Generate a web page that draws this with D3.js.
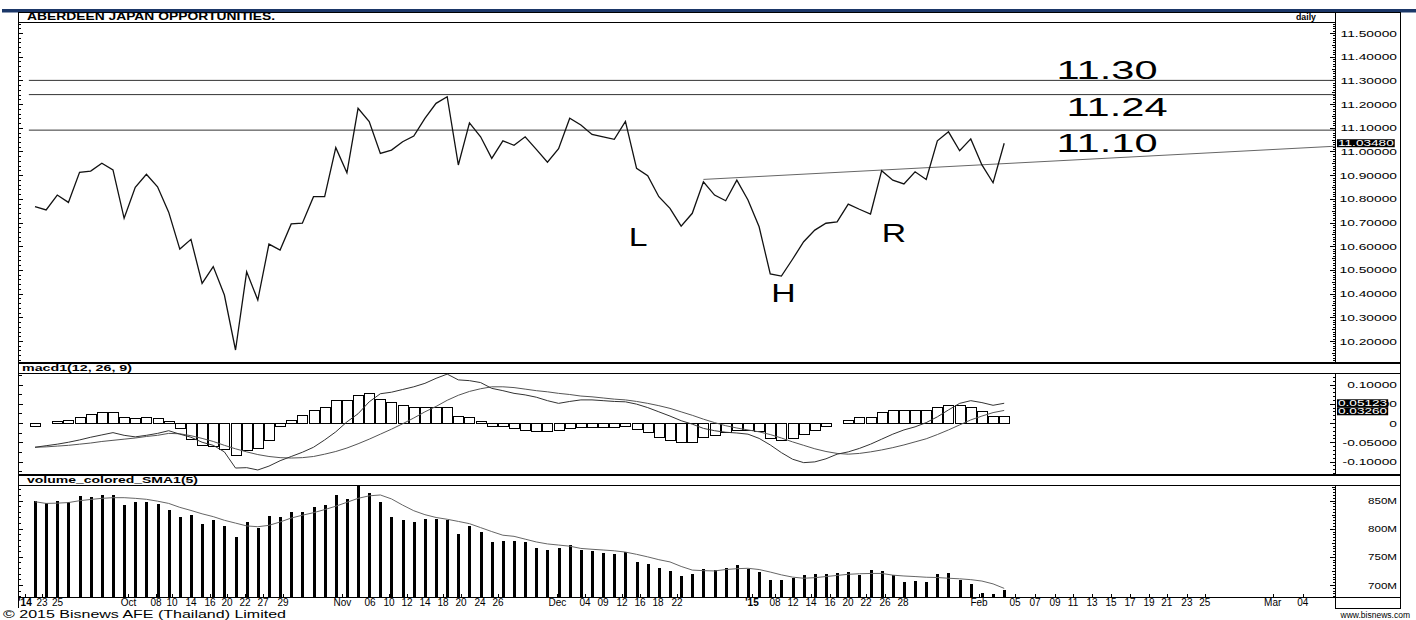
<!DOCTYPE html>
<html>
<head>
<meta charset="utf-8">
<script src="https://cdn.jsdelivr.net/npm/d3@7/dist/d3.min.js"></script>
<style>
  body { margin: 0; background: #fff; }
  svg text { font-family: "Liberation Sans", Arial, sans-serif; fill: #000; }
</style>
</head>
<body>
<svg class="chart" width="1416" height="620"></svg>
<script>
// daily closes, one per bar
const closes = [
  10.767, 10.753, 10.816, 10.785, 10.912, 10.917, 10.950, 10.922, 10.718, 10.849,
  10.904, 10.851, 10.744, 10.588, 10.629, 10.443, 10.514, 10.394, 10.162, 10.492,
  10.373, 10.609, 10.584, 10.694, 10.697, 10.809, 10.809, 11.016, 10.910, 11.182,
  11.126, 10.992, 11.006, 11.041, 11.065, 11.140, 11.203, 11.231, 10.943, 11.121,
  11.062, 10.971, 11.045, 11.026, 11.062, 11.009, 10.955, 11.012, 11.140, 11.112,
  11.072, 11.062, 11.051, 11.127, 10.929, 10.898, 10.809, 10.760, 10.685, 10.739,
  10.872, 10.816, 10.792, 10.879, 10.795, 10.682, 10.483, 10.474, 10.545, 10.619,
  10.668, 10.697, 10.703, 10.778, 10.756, 10.736, 10.919, 10.879, 10.863, 10.914,
  10.882, 11.045, 11.083, 11.003, 11.053, 10.943, 10.868, 11.0348
]

const macd = [
  -0.063, -0.059, -0.055, -0.050, -0.044, -0.037, -0.031, -0.025, -0.032, -0.036,
  -0.032, -0.027, -0.020, -0.029, -0.037, -0.050, -0.058, -0.075, -0.117, -0.116,
  -0.122, -0.112, -0.098, -0.087, -0.076, -0.063, -0.044, -0.023, 0.003, 0.024,
  0.055, 0.076, 0.080, 0.087, 0.094, 0.103, 0.116, 0.127, 0.112, 0.110,
  0.105, 0.090, 0.084, 0.077, 0.073, 0.067, 0.058, 0.051, 0.056, 0.060,
  0.060, 0.058, 0.056, 0.055, 0.049, 0.040, 0.029, 0.018, 0.006, -0.003,
  -0.014, -0.020, -0.024, -0.026, -0.029, -0.040, -0.057, -0.077, -0.094, -0.103,
  -0.101, -0.093, -0.081, -0.075, -0.066, -0.055, -0.042, -0.029, -0.018, -0.010,
  0.001, 0.016, 0.034, 0.051, 0.058, 0.053, 0.046, 0.05123
]

const signal = [
  -0.063, -0.062, -0.060, -0.058, -0.055, -0.052, -0.048, -0.045, -0.042, -0.039,
  -0.035, -0.032, -0.027, -0.028, -0.033, -0.040, -0.048, -0.058, -0.067, -0.075,
  -0.082, -0.087, -0.090, -0.091, -0.090, -0.087, -0.081, -0.074, -0.065, -0.054,
  -0.042, -0.029, -0.016, -0.002, 0.013, 0.029, 0.043, 0.059, 0.072, 0.082,
  0.089, 0.094, 0.094, 0.092, 0.088, 0.084, 0.081, 0.077, 0.074, 0.070,
  0.068, 0.065, 0.062, 0.060, 0.056, 0.051, 0.045, 0.038, 0.029, 0.020,
  0.010, 0.001, -0.007, -0.013, -0.018, -0.023, -0.030, -0.039, -0.049, -0.058,
  -0.067, -0.074, -0.079, -0.081, -0.079, -0.075, -0.070, -0.064, -0.057, -0.049,
  -0.041, -0.030, -0.018, -0.005, 0.008, 0.018, 0.027, 0.0326
]

const hist = [
  -0.008, 0.001, 0.004, 0.009, 0.016, 0.024, 0.029, 0.029, 0.015, 0.013,
  0.016, 0.013, 0.005, -0.013, -0.042, -0.058, -0.061, -0.067, -0.084, -0.069,
  -0.064, -0.043, -0.007, 0.009, 0.020, 0.035, 0.042, 0.059, 0.059, 0.074,
  0.079, 0.063, 0.055, 0.048, 0.042, 0.042, 0.042, 0.042, 0.019, 0.015,
  0.006, -0.007, -0.009, -0.013, -0.017, -0.020, -0.021, -0.019, -0.014, -0.011,
  -0.010, -0.010, -0.010, -0.008, -0.015, -0.023, -0.036, -0.043, -0.050, -0.050,
  -0.036, -0.031, -0.023, -0.017, -0.018, -0.022, -0.038, -0.043, -0.038, -0.029,
  -0.019, -0.009, 0, 0.009, 0.016, 0.016, 0.028, 0.033, 0.034, 0.034,
  0.034, 0.042, 0.048, 0.046, 0.042, 0.031, 0.017, 0.019
]

// volume in millions
const volume = [
  849, 845, 849, 847, 858, 857, 860, 860, 842, 848,
  848, 844, 833, 821, 824, 808, 815, 805, 786, 812,
  802, 823, 820, 829, 829, 839, 842, 860, 852, 876,
  863, 848, 821, 815, 812, 818, 817, 815, 791, 804,
  795, 776, 779, 778, 776, 765, 762, 766, 771, 763,
  760, 756, 755, 759, 741, 737, 730, 725, 716, 720,
  728, 727, 730, 736, 729, 723, 708, 708, 712, 717,
  719, 720, 721, 723, 717, 727, 724, 718, 706, 707,
  706, 720, 721, 709, 702, 686, 684, 691
]

const volumeSma = [
  848, 845, 845.5, 846.5, 849.8, 852, 854, 855.2, 855.2, 854,
  852.3, 849, 845, 838, 832.5, 826.5, 821.5, 815, 810, 805,
  803.6, 806, 812, 819, 824, 828.5, 834, 840, 847, 854,
  858.5, 860, 853, 842, 832, 825, 820, 816.8, 813, 809,
  802, 795, 788.5, 786.5, 781.5, 776.5, 773, 771, 769, 765,
  763.5, 762.2, 760.8, 758.5, 754.5, 750, 745, 741, 733, 726.5,
  725.5, 725, 727.5, 729, 729.7, 727.5, 723, 718, 714, 712,
  713, 715, 717, 719, 720, 720.5, 720.6, 717.5, 716, 715,
  713.8, 713.3, 712, 711, 709.5, 707, 702, 694
]

const levelValues = [11.30, 11.24, 11.09]
const levelTexts = ['11.30', '11.24', '11.10']
const levelTextAt = [[91.7, 11.306], [92.6, 11.150], [91.7, 10.998]]
const patternTexts = ['L', 'H', 'R']
const patternAt = [[53.3, 10.601], [66.1, 10.364], [76.0, 10.618]]
const trendLine = [[60, 10.882], [116.7, 11.022]]

const priceTicks = [10.2, 10.3, 10.4, 10.5, 10.6, 10.7, 10.8, 10.9, 11.0, 11.1, 11.2, 11.3, 11.4, 11.5]
const macdTicks = [-0.1, -0.05, 0, 0.05, 0.1]
const volumeTicks = [700, 750, 800, 850]

const dateLabels = [
  "'14", '23', '25', 'Oct', '08', '10', '14', '16', '20', '22', '27', '29',
  'Nov', '06', '10', '12', '14', '18', '20', '24', '26',
  'Dec', '04', '09', '12', '16', '18', '22',
  "'15", '08', '12', '14', '16', '20', '22', '26', '28',
  'Feb', '05', '07', '09', '11', '13', '15', '17', '19', '21', '23', '25',
  'Mar', '04'
]
// where each date label falls, in bar units
const dateAt = [
  -0.9, 0.63, 2.02, 8.39, 10.86, 12.3, 14.0, 15.71, 17.24, 18.85, 20.47, 22.26,
  27.6, 30.07, 31.78, 33.39, 35.01, 36.62, 38.24, 39.95, 41.56,
  46.9, 49.37, 50.99, 52.69, 54.31, 55.93, 57.63,
  64.36, 66.43, 68.04, 69.66, 71.36, 72.98, 74.6, 76.3, 77.92,
  84.74, 87.97, 89.77, 91.56, 93.18, 94.88, 96.59, 98.29, 100.0, 101.6, 103.4, 105.0,
  111.1, 113.8
]

const layout = { left: 18, right: 1335, edge: 1400 }
const panes = {
  price: { top: 12, head: 21.5, bottom: 362 },
  macd: { top: 363, head: 372.5, bottom: 474 },
  volume: { top: 475, head: 484.5, bottom: 597 }
}

const x = d3.scaleLinear().domain([0, closes.length - 1]).range([35, 1004.2])
const yPrice = d3.scaleLinear().domain([10.2, 11.5]).range([341, 33])
const yMacd = d3.scaleLinear().domain([-0.1, 0.1]).range([461.5, 384.5])
const yVolume = d3.scaleLinear().domain([700, 850]).range([585, 500.6])

const svg = d3.select('svg.chart')

// stretch text horizontally like the screen capture does
const widen = (sel, k) => sel.each(function () {
  d3.select(this)
    .attr('textLength', this.getComputedTextLength() * k)
    .attr('lengthAdjust', 'spacingAndGlyphs')
})

// top banner
svg.append('rect')
  .attr('x', 2).attr('y', 9).attr('width', 1414).attr('height', 3.5)
  .attr('fill', '#1b3768')

// panel frames
const frame = svg.append('g')
  .attr('shape-rendering', 'crispEdges')
  .attr('stroke', '#000')
  .attr('fill', 'none')

Object.entries(panes).forEach(([name, p]) => {
  frame.append('rect')
    .attr('x', layout.left + 0.5).attr('y', p.top + 0.5)
    .attr('width', layout.edge - layout.left).attr('height', p.bottom - p.top)
  frame.append('line')
    .attr('x1', layout.left).attr('x2', name === 'price' ? layout.right : layout.edge)
    .attr('y1', p.head + 0.5).attr('y2', p.head + 0.5)
  frame.append('line')
    .attr('x1', layout.right + 0.5).attr('x2', layout.right + 0.5)
    .attr('y1', name === 'price' ? p.top : p.head).attr('y2', p.bottom)
})
// date row
frame.append('line')
  .attr('x1', layout.left + 0.5).attr('x2', layout.left + 0.5)
  .attr('y1', panes.volume.bottom).attr('y2', 608)
frame.append('rect')
  .attr('x', layout.right + 0.5).attr('y', panes.volume.bottom + 0.5)
  .attr('width', layout.edge - layout.right).attr('height', 11)

// ruler ticks on both edges of a pane
const ruler = (scale, p, stepLeft, stepRight, major) => {
  const g = svg.append('g')
    .attr('shape-rendering', 'crispEdges')
    .attr('stroke', '#000')
  const lo = Math.min(scale.invert(p.head), scale.invert(p.bottom))
  const hi = Math.max(scale.invert(p.head), scale.invert(p.bottom))
  const marks = step => d3.range(Math.ceil(lo / step), Math.floor(hi / step) + 1)
    .map(k => k * step)
  const isMajor = v => Math.abs(v / major - Math.round(v / major)) < 1e-6
  const isMid = v => Math.abs(v / (major / 2) - Math.round(v / (major / 2))) < 1e-6
  g.selectAll('line.l').data(marks(stepLeft)).join('line')
    .attr('class', 'l')
    .attr('x1', layout.left).attr('x2', v => layout.left + (isMajor(v) ? 5 : isMid(v) ? 4 : 3))
    .attr('y1', v => Math.round(scale(v)) + 0.5).attr('y2', v => Math.round(scale(v)) + 0.5)
  g.selectAll('line.r').data(marks(stepRight)).join('line')
    .attr('class', 'r')
    .attr('x1', v => layout.right - (isMajor(v) ? 5 : isMid(v) ? 3 : 2)).attr('x2', layout.right)
    .attr('y1', v => Math.round(scale(v)) + 0.5).attr('y2', v => Math.round(scale(v)) + 0.5)
}
ruler(yPrice, panes.price, 0.02, 0.01, 0.1)
ruler(yMacd, panes.macd, 0.025, 0.01, 0.05)
ruler(yVolume, panes.volume, 10, 5, 50)

// axis labels on the right
const axisLabels = (ticks, scale, fmt, k) => {
  svg.append('g').selectAll('text').data(ticks).join('text')
    .attr('x', 1397).attr('y', d => scale(d) + 3.5)
    .attr('text-anchor', 'end')
    .attr('font-size', 9.5)
    .text(fmt)
    .call(widen, k)
}
axisLabels(priceTicks, yPrice, d => d.toFixed(5), 1.45)
axisLabels(macdTicks, yMacd, d => d === 0 ? '0' : d.toFixed(5), 1.45)
axisLabels(volumeTicks, yVolume, d => d + 'M', 1.22)

// pane titles
const title = (text, tx, ty, size, len) => svg.append('text')
  .attr('x', tx).attr('y', ty)
  .attr('font-size', size).attr('font-weight', 'bold')
  .attr('textLength', len).attr('lengthAdjust', 'spacingAndGlyphs')
  .text(text)
title('ABERDEEN JAPAN OPPORTUNITIES.', 27, 20, 10, 248)
title('daily', 1296, 19.5, 9, 20)
title('macd1(12, 26, 9)', 22, 370.5, 8.5, 110)
title('volume_colored_SMA1(5)', 27, 482.5, 8.5, 171)

// price pane
const price = svg.append('g')

price.selectAll('line.level').data(levelValues).join('line')
  .attr('class', 'level')
  .attr('x1', x(-0.55)).attr('x2', layout.right)
  .attr('y1', d => yPrice(d)).attr('y2', d => yPrice(d))
  .attr('stroke', '#333').attr('stroke-width', 1)

svg.append('clipPath').attr('id', 'price-clip')
  .append('rect')
  .attr('x', layout.left).attr('y', panes.price.head)
  .attr('width', layout.right - layout.left).attr('height', panes.price.bottom - panes.price.head)

price.append('path')
  .datum(trendLine)
  .attr('clip-path', 'url(#price-clip)')
  .attr('d', d3.line().x(d => x(d[0])).y(d => yPrice(d[1])))
  .attr('fill', 'none').attr('stroke', '#666').attr('stroke-width', 1)

price.append('path')
  .datum(closes)
  .attr('d', d3.line().x((d, i) => x(i)).y(d => yPrice(d)))
  .attr('fill', 'none').attr('stroke', '#111').attr('stroke-width', 1.3)
  .attr('stroke-linejoin', 'miter')

price.selectAll('text.lvl').data(levelTexts).join('text')
  .attr('class', 'lvl')
  .attr('x', (d, i) => x(levelTextAt[i][0]))
  .attr('y', (d, i) => yPrice(levelTextAt[i][1]))
  .attr('font-size', 26)
  .attr('textLength', 101).attr('lengthAdjust', 'spacingAndGlyphs')
  .text(d => d)

price.selectAll('text.pat').data(patternTexts).join('text')
  .attr('class', 'pat')
  .attr('x', (d, i) => x(patternAt[i][0]))
  .attr('y', (d, i) => yPrice(patternAt[i][1]))
  .attr('font-size', 25)
  .text(d => d)
  .call(widen, 1.35)

// macd pane
const macdG = svg.append('g')
macdG.selectAll('rect').data(hist).join('rect')
  .attr('x', (d, i) => Math.round(x(i) - 5) + 0.5)
  .attr('width', 9.5)
  .attr('y', d => Math.round(yMacd(Math.max(0, d))) + 0.5)
  .attr('height', d => Math.abs(Math.round(yMacd(d)) - Math.round(yMacd(0))))
  .attr('fill', '#fff').attr('stroke', '#000').attr('stroke-width', 1)
  .attr('shape-rendering', 'crispEdges')

const macdLine = d3.line().x((d, i) => x(i)).y(d => yMacd(d))
macdG.append('path').datum(signal).attr('d', macdLine)
  .attr('fill', 'none').attr('stroke', '#555').attr('stroke-width', 1)
macdG.append('path').datum(macd).attr('d', macdLine)
  .attr('fill', 'none').attr('stroke', '#333').attr('stroke-width', 1)

// volume pane
const volG = svg.append('g')
volG.selectAll('rect').data(volume).join('rect')
  .attr('x', (d, i) => Math.round(x(i)) - 1)
  .attr('width', 3)
  .attr('y', d => yVolume(d))
  .attr('height', d => panes.volume.bottom - yVolume(d))
  .attr('fill', '#000')
  .attr('shape-rendering', 'crispEdges')
volG.append('path').datum(volumeSma)
  .attr('d', d3.line().x((d, i) => x(i)).y(d => yVolume(d)))
  .attr('fill', 'none').attr('stroke', '#666').attr('stroke-width', 1)

// last-value boxes, stacked so they do not cover each other
let boxFloor = 0
const valueBox = (value, scale, textX) => {
  const top = Math.max(scale(value) - 4, boxFloor)
  const g = svg.append('g')
  const t = g.append('text')
    .attr('x', textX).attr('y', top + 7)
    .attr('font-size', 8.5)
    .style('fill', '#fff')
    .text(value.toFixed(5))
    .call(widen, 1.6)
  const w = t.node().getComputedTextLength()
  g.insert('rect', 'text')
    .attr('x', textX - 1).attr('y', top)
    .attr('width', w + 2).attr('height', 8)
    .attr('fill', '#000')
  boxFloor = top + 8
}
valueBox(closes[closes.length - 1], yPrice, 1338)
boxFloor = 0
valueBox(macd[macd.length - 1], yMacd, 1338)
valueBox(signal[signal.length - 1], yMacd, 1338)

// date axis
const dates = svg.append('g')
dates.selectAll('line').data(dateAt).join('line')
  .attr('x1', d => Math.round(x(d)) + 0.5).attr('x2', d => Math.round(x(d)) + 0.5)
  .attr('y1', panes.volume.bottom - 3).attr('y2', panes.volume.bottom)
  .attr('stroke', '#000').attr('shape-rendering', 'crispEdges')
dates.selectAll('text').data(dateLabels).join('text')
  .attr('x', (d, i) => x(dateAt[i]))
  .attr('y', 606)
  .attr('text-anchor', 'middle')
  .attr('font-size', 10)
  .attr('font-weight', d => d.startsWith("'") ? 'bold' : 'normal')
  .text(d => d)

// footer
svg.append('text')
  .attr('x', 3).attr('y', 617.5)
  .attr('font-size', 10)
  .attr('textLength', 283).attr('lengthAdjust', 'spacingAndGlyphs')
  .text('\u00a9 2015 Bisnews AFE (Thailand) Limited')
svg.append('text')
  .attr('x', 1410).attr('y', 617.5)
  .attr('text-anchor', 'end')
  .attr('font-size', 8.5)
  .text('www.bisnews.com')
</script>
</body>
</html>
